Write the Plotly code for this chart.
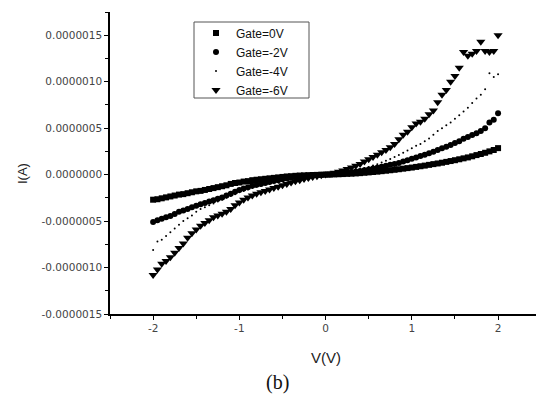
import plotly.graph_objects as go

# Bias voltage grid (V)
V = [round(-2 + 0.05 * i, 2) for i in range(81)]

# Currents, in microamps
gate_0V = [-0.27, -0.265, -0.255, -0.245, -0.235, -0.225, -0.215, -0.21, -0.20, -0.19,
           -0.18, -0.175, -0.165, -0.155, -0.145, -0.135, -0.125, -0.115, -0.10, -0.09,
           -0.085, -0.075, -0.07, -0.06, -0.055, -0.05, -0.045, -0.04, -0.035, -0.03,
           -0.025, -0.02, -0.017, -0.013, -0.01, -0.008, -0.006, -0.004, -0.003, -0.001,
           0.0, 0.001, 0.003, 0.004, 0.006, 0.008, 0.01, 0.013, 0.016, 0.02,
           0.024, 0.028, 0.032, 0.037, 0.042, 0.047, 0.052, 0.058, 0.064, 0.07,
           0.076, 0.083, 0.09, 0.097, 0.105, 0.113, 0.12, 0.128, 0.137, 0.146,
           0.155, 0.165, 0.175, 0.185, 0.197, 0.21, 0.222, 0.235, 0.25, 0.265, 0.285]
gate_m2V = [-0.51, -0.49, -0.475, -0.46, -0.445, -0.425, -0.40, -0.385, -0.37, -0.35,
            -0.335, -0.32, -0.305, -0.29, -0.275, -0.26, -0.245, -0.225, -0.205, -0.185,
            -0.165, -0.15, -0.135, -0.12, -0.11, -0.10, -0.09, -0.08, -0.07, -0.06,
            -0.05, -0.042, -0.035, -0.028, -0.022, -0.017, -0.012, -0.008, -0.005, -0.002,
            0.0, 0.002, 0.005, 0.009, 0.014, 0.02, 0.026, 0.033, 0.04, 0.048,
            0.056, 0.065, 0.075, 0.085, 0.095, 0.105, 0.115, 0.125, 0.14, 0.155,
            0.17, 0.185, 0.20, 0.215, 0.23, 0.245, 0.265, 0.285, 0.30, 0.32,
            0.34, 0.36, 0.385, 0.405, 0.425, 0.445, 0.47, 0.50, 0.56, 0.59, 0.66]
gate_m4V = [-0.81, -0.72, -0.70, -0.66, -0.62, -0.58, -0.54, -0.50, -0.47, -0.44,
            -0.40, -0.37, -0.35, -0.33, -0.31, -0.29, -0.27, -0.25, -0.23, -0.21,
            -0.19, -0.175, -0.16, -0.145, -0.13, -0.12, -0.105, -0.095, -0.085, -0.075,
            -0.065, -0.055, -0.045, -0.037, -0.03, -0.023, -0.017, -0.012, -0.007, -0.003,
            0.0, 0.003, 0.008, 0.013, 0.02, 0.028, 0.037, 0.047, 0.058, 0.07,
            0.083, 0.097, 0.112, 0.13, 0.148, 0.168, 0.19, 0.21, 0.235, 0.26,
            0.285, 0.31, 0.33, 0.36, 0.39, 0.43, 0.47, 0.50, 0.53, 0.56,
            0.60, 0.64, 0.68, 0.72, 0.77, 0.82, 0.86, 0.92, 1.09, 1.05, 1.08]
gate_m6V = [-1.08, -1.02, -0.96, -0.93, -0.89, -0.84, -0.79, -0.74, -0.68, -0.63,
            -0.59, -0.55, -0.52, -0.49, -0.46, -0.44, -0.42, -0.40, -0.37, -0.33,
            -0.30, -0.27, -0.245, -0.225, -0.205, -0.19, -0.175, -0.16, -0.145, -0.13,
            -0.115, -0.10, -0.085, -0.072, -0.06, -0.048, -0.037, -0.027, -0.017, -0.008,
            0.0, 0.01, 0.02, 0.032, 0.045, 0.06, 0.077, 0.095, 0.115, 0.14,
            0.165, 0.19, 0.215, 0.24, 0.265, 0.295, 0.33, 0.38, 0.43, 0.46,
            0.51, 0.55, 0.57, 0.60, 0.65, 0.69, 0.78, 0.86, 0.91, 1.0,
            1.06, 1.15, 1.32, 1.28, 1.30, 1.33, 1.43, 1.33, 1.32, 1.33, 1.50]

series = [
    ("Gate=0V", gate_0V, "square", 6),
    ("Gate=-2V", gate_m2V, "circle", 6),
    ("Gate=-4V", gate_m4V, "circle", 2),
    ("Gate=-6V", gate_m6V, "triangle-down", 8),
]

y_tickvals = [1.5e-6, 1.0e-6, 0.5e-6, 0.0, -0.5e-6, -1.0e-6, -1.5e-6]
y_ticktext = ["0.0000015", "0.0000010", "0.0000005", "0.0000000",
              "-0.0000005", "-0.0000010", "-0.0000015"]
x_tickvals = [-2, -1, 0, 1, 2]
x_ticktext = ["-2", "-1", "0", "1", "2"]

fig = go.Figure()
for name, vals, sym, size in series:
    fig.add_trace(go.Scatter(
        x=V, y=[v * 1e-6 for v in vals], mode="markers", name=name,
        marker=dict(symbol=sym, size=size, color="black", line=dict(width=0)),
    ))

# pixel -> paper helpers for the fixed plot area (x 110..536, y 12..314)
def px(x):
    return (x - 110) / 426

def py(y):
    return (314 - y) / 302

font = "Liberation Sans, Arial, sans-serif"
tickfont = dict(family="DejaVu Sans, sans-serif", size=10.5, color="#444")
fig.update_layout(
    width=536, height=398,
    margin=dict(l=110, r=0, t=12, b=84, autoexpand=False),
    paper_bgcolor="white", plot_bgcolor="white",
    showlegend=True,
    legend=dict(x=px(196), y=py(18.5), xanchor="left", yanchor="top",
                borderwidth=0, bgcolor="rgba(0,0,0,0)",
                font=dict(family=font, size=12, color="#111"),
                tracegroupgap=0, itemwidth=30),
    shapes=[dict(type="rect", xref="paper", yref="paper",
                 x0=px(194), x1=px(309), y0=py(98), y1=py(22),
                 line=dict(color="#555", width=1), fillcolor="white",
                 layer="below")],
    xaxis=dict(range=[-2.5, 2.44], showgrid=False, zeroline=False,
               showline=True, linecolor="black", linewidth=1.5,
               ticks="outside", ticklen=4, tickwidth=1, tickcolor="black",
               tickvals=x_tickvals, ticktext=x_ticktext,
               minor=dict(tickvals=[-2.5, -1.5, -0.5, 0.5, 1.5], ticks="outside",
                          ticklen=3, tickcolor="black"),
               tickfont=tickfont),
    yaxis=dict(range=[-1.5e-6, 1.75e-6], showgrid=False, zeroline=False,
               showline=True, linecolor="black", linewidth=1.5,
               ticks="outside", ticklen=4, tickwidth=1, tickcolor="black",
               tickvals=y_tickvals, ticktext=y_ticktext,
               minor=dict(tickvals=[1.75e-6, 1.25e-6, 0.75e-6, 0.25e-6, -0.25e-6,
                                    -0.75e-6, -1.25e-6], ticks="outside",
                          ticklen=3, tickcolor="black"),
               tickfont=tickfont),
    annotations=[
        dict(text="I(A)", x=px(22), y=py(174),
             xref="paper", yref="paper", xanchor="center", yanchor="middle",
             textangle=-90, showarrow=False,
             font=dict(family=font, size=13, color="#222")),
        dict(text="V(V)", x=px(326), y=py(357),
             xref="paper", yref="paper", xanchor="center", yanchor="middle",
             showarrow=False, font=dict(family=font, size=15, color="#222")),
        dict(text="(b)", x=px(277), y=py(382),
             xref="paper", yref="paper", xanchor="center", yanchor="middle",
             showarrow=False,
             font=dict(family="Liberation Serif, Times New Roman, serif",
                       size=20, color="#111")),
    ],
)

fig.write_html("out.html", config={"displayModeBar": False},
               post_script="document.body.style.margin='0';")
